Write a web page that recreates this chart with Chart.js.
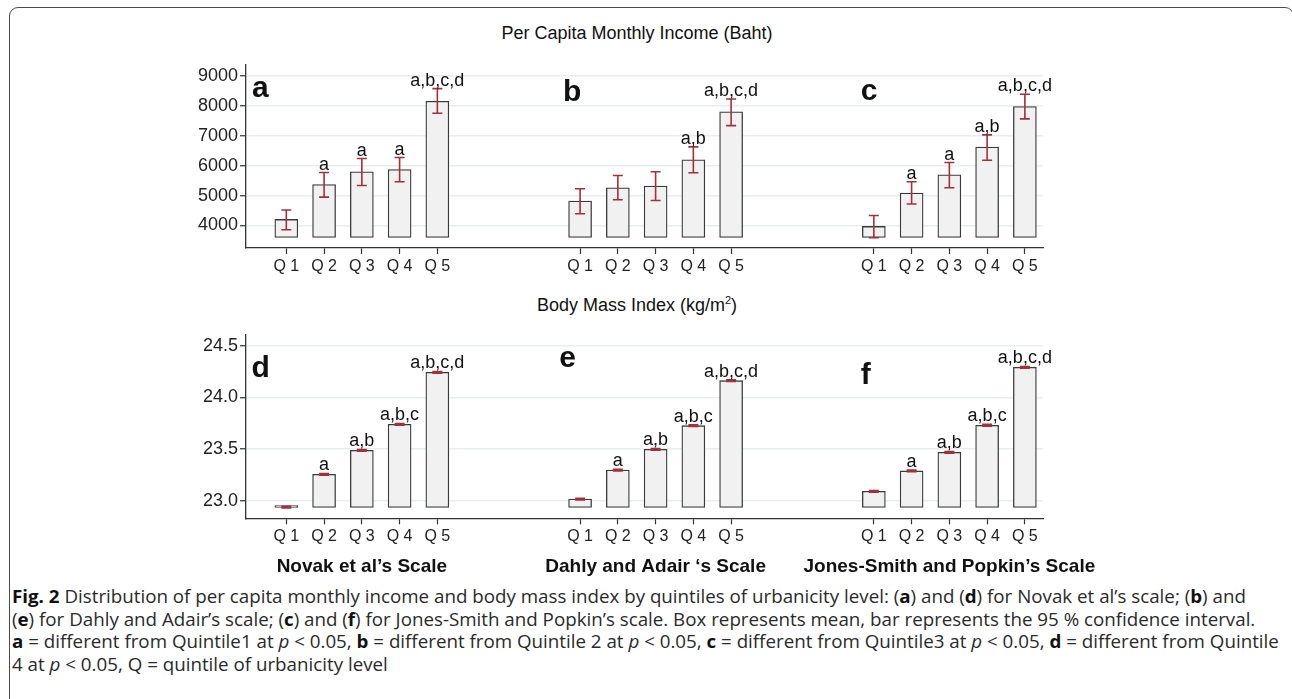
<!DOCTYPE html>
<html>
<head>
<meta charset="utf-8">
<script src="https://cdn.jsdelivr.net/npm/chart.js@4.4.0/dist/chart.umd.min.js"></script>
<style>
  html, body { margin: 0; padding: 0; background: #fff; }
  body { width: 1292px; height: 699px; position: relative; overflow: hidden; font-family: "Liberation Sans", Arial, sans-serif; }
  .frame { position: absolute; left: 9px; top: 7px; width: 1285px; height: 760px; border: 1.5px solid #4a4a4a; border-radius: 9px; box-sizing: border-box; }
  .title { position: absolute; left: 0; width: 1274px; text-align: center; font-size: 18px; line-height: 21px; color: #111; }
  .title sup { font-size: 11px; line-height: 0; }
  #topChart { position: absolute; left: 0; top: 0; }
  #bottomChart { position: absolute; left: 0; top: 290px; }
  #caption { position: absolute; left: 12px; top: 585px; font-family: "Open Sans", sans-serif; font-size: 17.5px; line-height: 22.7px; color: #2a2a2a; white-space: nowrap; transform-origin: 0 0; }
  #caption span { display: inline-block; }
  #caption b { color: #111; }
</style>
</head>
<body>
<div class="frame"></div>
<div class="title" style="top:23px">Per Capita Monthly Income (Baht)</div>
<div class="title" style="top:295px">Body Mass Index (kg/m<sup>2</sup>)</div>
<canvas id="topChart" width="1292" height="290"></canvas>
<canvas id="bottomChart" width="1292" height="290"></canvas>
<div id="caption">
  <div><span class="ln"><b>Fig. 2</b> Distribution of per capita monthly income and body mass index by quintiles of urbanicity level: (<b>a</b>) and (<b>d</b>) for Novak et al’s scale; (<b>b</b>) and</span></div>
  <div><span class="ln">(<b>e</b>) for Dahly and Adair’s scale; (<b>c</b>) and (<b>f</b>) for Jones-Smith and Popkin’s scale. Box represents mean, bar represents the 95 % confidence interval.</span></div>
  <div><span class="ln"><b>a</b> = different from Quintile1 at <i>p</i> &lt; 0.05, <b>b</b> = different from Quintile 2 at <i>p</i> &lt; 0.05, <b>c</b> = different from Quintile3 at <i>p</i> &lt; 0.05, <b>d</b> = different from Quintile</span></div>
  <div>4 at <i>p</i> &lt; 0.05, Q = quintile of urbanicity level</div>
</div>
<script>
// categories
const quintiles = ["Q 1", "Q 2", "Q 3", "Q 4", "Q 5"];
const scaleNames = ["Novak et al’s Scale", "Dahly and Adair ‘s Scale", "Jones-Smith and Popkin’s Scale"];
const incomeLetters = ["a", "b", "c"];
const bmiLetters = ["d", "e", "f"];

// per capita monthly income (baht): mean, lower and upper 95% CI
const incomeA = [4200, 5369, 5794, 5870, 8155];
const incomeLoA = [3856, 4948, 5336, 5460, 7754];
const incomeHiA = [4514, 5770, 6238, 6271, 8576];
const incomeB = [4815, 5259, 5316, 6194, 7798];
const incomeLoB = [4391, 4858, 4835, 5760, 7340];
const incomeHiB = [5226, 5670, 5794, 6629, 8232];
const incomeC = [3967, 5082, 5693, 6619, 7975];
const incomeLoC = [3589, 4715, 5259, 6183, 7564];
const incomeHiC = [4334, 5460, 6104, 7029, 8389];

// body mass index: mean, lower and upper 95% CI
const bmiD = [22.94, 23.258, 23.489, 23.740, 24.242];
const bmiLoD = [22.932, 23.250, 23.481, 23.732, 24.234];
const bmiHiD = [22.948, 23.266, 23.497, 23.748, 24.250];
const bmiE = [23.019, 23.299, 23.499, 23.727, 24.161];
const bmiLoE = [23.011, 23.291, 23.491, 23.719, 24.153];
const bmiHiE = [23.027, 23.307, 23.507, 23.735, 24.169];
const bmiF = [23.094, 23.290, 23.470, 23.731, 24.290];
const bmiLoF = [23.086, 23.282, 23.462, 23.723, 24.282];
const bmiHiF = [23.102, 23.298, 23.478, 23.739, 24.298];

// significance letters above each bar
const sigA = ["", "a", "a", "a", "a,b,c,d"];
const sigB = ["", "", "", "a,b", "a,b,c,d"];
const sigC = ["", "a", "a", "a,b", "a,b,c,d"];
const sigD = ["", "a", "a,b", "a,b,c", "a,b,c,d"];
const sigE = ["", "a", "a,b", "a,b,c", "a,b,c,d"];
const sigF = ["", "a", "a,b", "a,b,c", "a,b,c,d"];

// tick labels
const incomeTicks = [4000, 5000, 6000, 7000, 8000, 9000];
const bmiTicks = [23.0, 23.5, 24.0, 24.5];

const GROUP_STRIDE = 7.78;
const FONT = "'Liberation Sans', Arial, sans-serif";
const ERR_COLOR = "#a3303d";
Chart.defaults.font.family = FONT;
Chart.defaults.color = "#222";

const xPositions = [];
for (let g = 0; g < 3; g++) {
  for (let q = 0; q < 5; q++) xPositions.push(g * GROUP_STRIDE + q + 1);
}

function annotate(lo, hi, sig, letters, letterPos, names) {
  return {
    id: "annotate",
    afterDatasetsDraw(chart) {
      const ctx = chart.ctx;
      const xs = chart.scales.x, ys = chart.scales.y;
      const bars = chart.getDatasetMeta(0).data;
      ctx.save();
      ctx.strokeStyle = ERR_COLOR;
      ctx.lineWidth = 1.6;
      bars.forEach((bar, i) => {
        const x = bar.x;
        const top = ys.getPixelForValue(hi[i]);
        const bot = ys.getPixelForValue(lo[i]);
        ctx.beginPath();
        ctx.moveTo(x, top); ctx.lineTo(x, bot);
        ctx.moveTo(x - 5, top); ctx.lineTo(x + 5, top);
        ctx.moveTo(x - 5, bot); ctx.lineTo(x + 5, bot);
        ctx.stroke();
      });
      ctx.fillStyle = "#111";
      ctx.font = "18px " + FONT;
      ctx.textAlign = "center";
      ctx.textBaseline = "alphabetic";
      bars.forEach((bar, i) => {
        if (sig[i]) ctx.fillText(sig[i], bar.x, ys.getPixelForValue(hi[i]) - 3);
      });
      ctx.font = "bold 30px " + FONT;
      ctx.textAlign = "left";
      letters.forEach((l, g) => {
        const p = letterPos[g];
        ctx.fillText(l, xs.getPixelForValue(g * GROUP_STRIDE + 1 + p[0]), ys.getPixelForValue(p[1]));
      });
      if (names) {
        ctx.font = "bold 19px " + FONT;
        ctx.textAlign = "center";
        ctx.textBaseline = "middle";
        names.forEach((n, g) => {
          ctx.fillText(n, xs.getPixelForValue(g * GROUP_STRIDE + 3), chart.chartArea.bottom + 48);
        });
      }
      ctx.restore();
    }
  };
}

function makeChart(id, values, base, yMin, yMax, yTicks, yFmt, xHeight, padTop, plugin) {
  return new Chart(document.getElementById(id).getContext("2d"), {
    type: "bar",
    data: {
      datasets: [{
        data: values.map((v, i) => ({ x: xPositions[i], y: v })),
        base: base,
        minBarLength: 2,
        barThickness: 23,
        grouped: false,
        backgroundColor: "#f1f1f1",
        borderColor: "#3a3a3a",
        borderWidth: 1.3,
        borderSkipped: false
      }]
    },
    options: {
      responsive: false,
      animation: false,
      layout: { padding: { left: 0, right: 249, top: padTop, bottom: 0 } },
      plugins: { legend: { display: false }, tooltip: { enabled: false } },
      scales: {
        x: {
          type: "linear",
          offset: false,
          min: -0.068,
          max: 21.04,
          afterBuildTicks: s => { s.ticks = xPositions.map(v => ({ value: v })); },
          afterFit: s => { s.height = xHeight; },
          ticks: { callback: (v, i) => quintiles[i % 5], autoSkip: false, maxRotation: 0, padding: 3, font: { size: 16 }, color: "#222" },
          grid: { offset: false, drawOnChartArea: false, tickLength: 6, tickColor: "#333", tickWidth: 1.2 },
          border: { color: "#333", width: 1.3 }
        },
        y: {
          min: yMin,
          max: yMax,
          afterBuildTicks: s => { s.ticks = yTicks.map(v => ({ value: v })); },
          afterFit: s => { s.width = 246; },
          ticks: { callback: yFmt, padding: 2, font: { size: 18 }, color: "#222" },
          grid: { color: "#e7eef0", lineWidth: 1.5, tickLength: 6, tickColor: "#333", tickWidth: 1.2 },
          border: { color: "#333", width: 1.3 }
        }
      }
    },
    plugins: [plugin]
  });
}

makeChart("topChart",
  incomeA.concat(incomeB, incomeC), 3600, 3245, 9367, incomeTicks, v => String(v), 42, 65,
  annotate(incomeLoA.concat(incomeLoB, incomeLoC), incomeHiA.concat(incomeHiB, incomeHiC),
    sigA.concat(sigB, sigC), incomeLetters, [[-0.91, 8289], [-0.45, 8165], [-0.35, 8198]], null));

makeChart("bottomChart",
  bmiD.concat(bmiE, bmiF), 22.937, 22.833, 24.602, bmiTicks, v => v.toFixed(1), 61.7, 45,
  annotate(bmiLoD.concat(bmiLoE, bmiLoF), bmiHiD.concat(bmiHiE, bmiHiF),
    sigD.concat(sigE, sigF), bmiLetters, [[-0.92, 24.2], [-0.55, 24.29], [-0.35, 24.13]], scaleNames));

// squeeze the caption so its three full lines span about the widths they have in the figure
const lineTargets = [1250, 1238, 1256];
const lines = document.querySelectorAll("#caption .ln");
let measured = 0;
lines.forEach(l => { measured += l.getBoundingClientRect().width; });
const target = lineTargets.reduce((a, b) => a + b, 0);
document.getElementById("caption").style.transform = "scaleX(" + (target / measured) + ")";
</script>
</body>
</html>
